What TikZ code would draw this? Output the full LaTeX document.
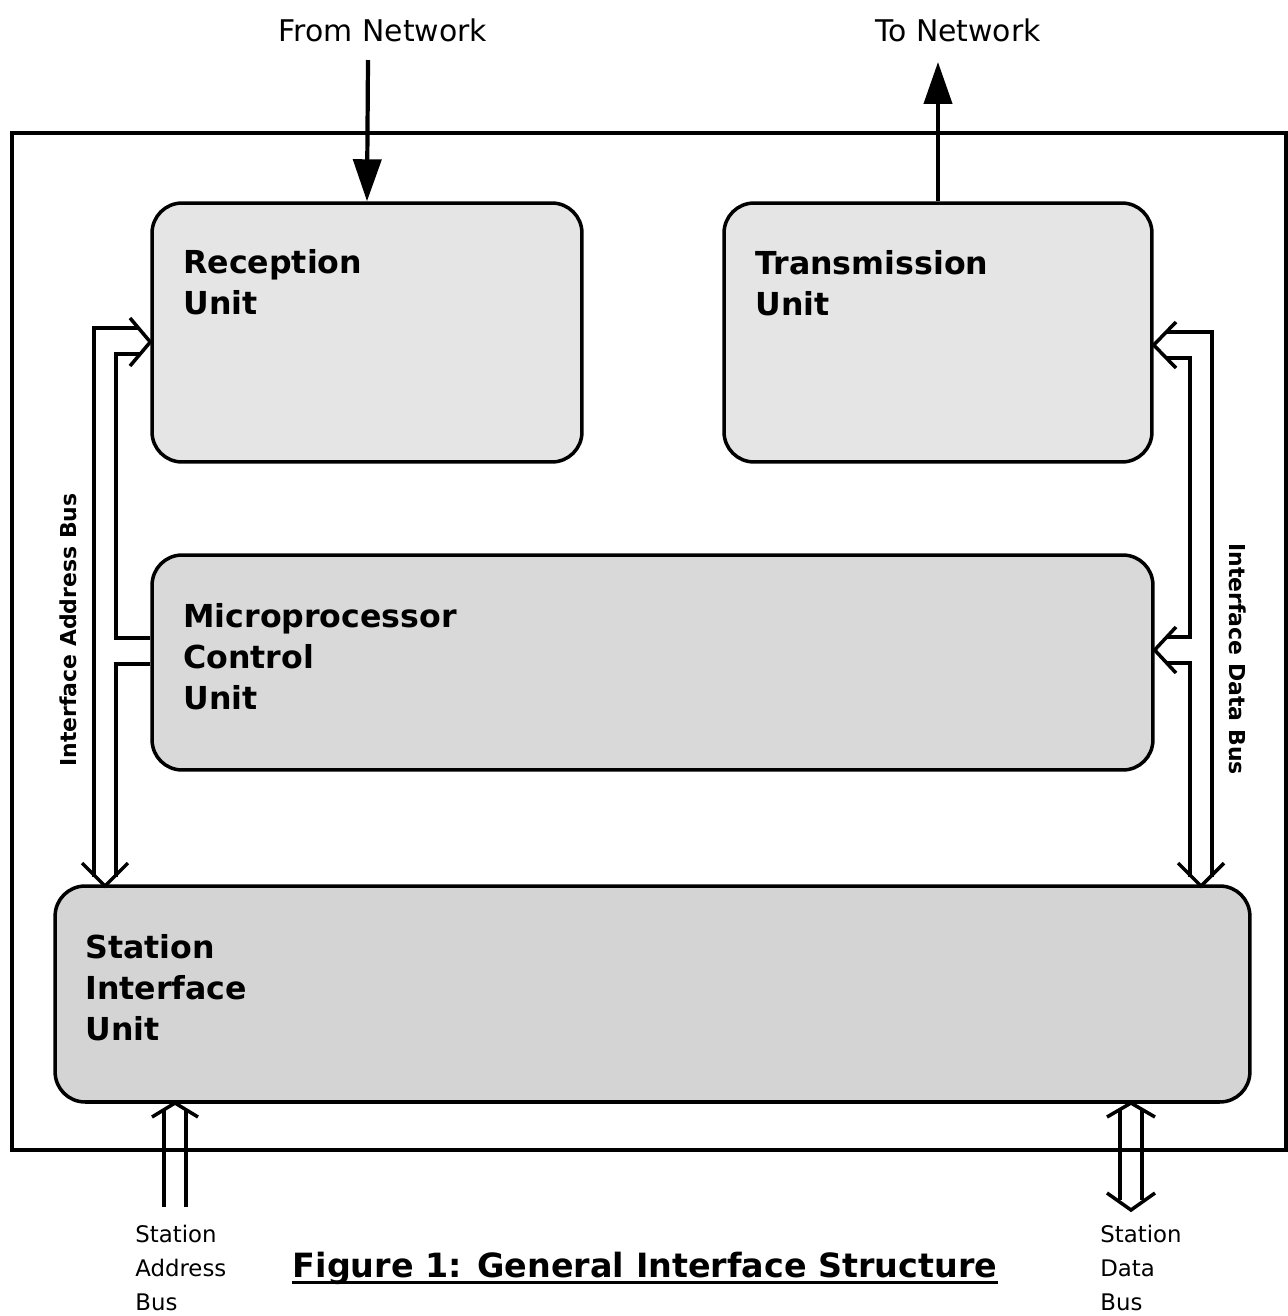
\documentclass[tikz,border=0pt]{standalone}
\usepackage{fontspec}
\setmainfont{DejaVu Sans}
\usetikzlibrary{arrows.meta}

\begin{document}
\begin{tikzpicture}[x=0.02cm, y=-0.02cm,
unit/.style = {draw, line width=2pt, rounded corners=0.6cm, fill=#1, inner sep=0pt},
lbl/.style = {font=\fontsize{18}{23.5}\selectfont\bfseries, align=left, anchor=north west, inner sep=0pt},
ext/.style = {font=\fontsize{17}{20}\selectfont, inner sep=0pt},
buslbl/.style = {font=\fontsize{13}{19.3}\selectfont, align=left, anchor=north west, inner sep=0pt},
bus/.style = {line width=2pt, line join=miter},
net/.style = {line width=2.4pt, -{Triangle[length=0.84cm, width=0.56cm]}}]
\useasboundingbox (0,0) rectangle (1288,1316);
\draw[line width=1.8pt] (12,133) rectangle (1286,1150);
    % units
    \node[unit=gray!20, minimum width=8.6cm, minimum height=5.18cm] (rx) at (367,332.5) {};
    \node[unit=gray!20, minimum width=8.56cm, minimum height=5.18cm] (tx) at (938,332.5) {};
    \node[unit=gray!30, minimum width=20.02cm, minimum height=4.3cm] (mc) at (652.5,662.5) {};
    \node[unit=gray!34, minimum width=23.9cm, minimum height=4.32cm] (si) at (652.5,994) {};
    \node[lbl] (rxl) at (183,249) {Reception\\Unit};
    \node[lbl] (txl) at (755,250) {Transmission\\Unit};
    \node[lbl] (mcl) at (183,603) {Microprocessor\\Control\\Unit};
    \node[lbl] (sil) at (85,934) {Station\\Interface\\Unit};
    % network
    \node[ext] (fromnet) at (383,30) {From Network};
    \node[ext] (tonet) at (958,30) {To Network};
    \coordinate (fn) at (368,60);
    \coordinate (tn) at (938,62);
    \draw[net] (fn) -- (rx.north);
    \draw[net] (tx.north) -- (tn);
    % interface address bus
    \draw[bus] (139,328) -- (94,328) -- (94,877);
    \draw[bus] (141,354) -- (116,354) -- (116,638) -- (mc.west |- 0,638);
    \draw[bus] (mc.west |- 0,664) -- (116,664) -- (116,877);
    \draw[bus] (130,318) -- (rx.west |- 0,342) -- (130,366);
    \draw[bus] (82,863) -- (105,886) -- (128,863);
    \node[font=\fontsize{12.5}{14}\selectfont\bfseries, rotate=90] (iab) at (68,630) {Interface Address Bus};
    % interface data bus
    \draw[bus] (1166,332) -- (1212,332) -- (1212,877);
    \draw[bus] (1166,358) -- (1190,358) -- (1190,637) -- (1166,637);
    \draw[bus] (1166,663) -- (1190,663) -- (1190,877);
    \draw[bus] (1176,322) -- (tx.east |- 0,345) -- (1176,368);
    \draw[bus] (1176,627) -- (mc.east |- 0,650) -- (1176,673);
    \draw[bus] (1178,863) -- (1201,886) -- (1224,863);
    \node[font=\fontsize{12.5}{14}\selectfont\bfseries, rotate=-90] (idb) at (1238,659) {Interface Data Bus};
    % station buses
    \draw[bus] (164,1207) -- (164,1110);
    \draw[bus] (186,1207) -- (186,1110);
    \draw[bus] (152,1117) -- (175,1103) -- (198,1117);
    \draw[bus] (1120,1110) -- (1120,1200);
    \draw[bus] (1142,1110) -- (1142,1200);
    \draw[bus] (1107,1117) -- (1131,1103) -- (1155,1117);
    \draw[bus] (1107,1193) -- (1131,1210) -- (1155,1193);
    \node[buslbl] (sab) at (135,1225) {Station\\Address\\Bus};
    \node[buslbl] (sdb) at (1100,1225) {Station\\Data\\Bus};
    % caption
    \node[font=\fontsize{19}{22}\selectfont\bfseries, inner sep=0pt] (cap) at (645,1268) {Figure 1: General Interface Structure};
    \draw[line width=1.5pt] ([yshift=-3pt]cap.base west) -- ([yshift=-3pt]cap.base east);
\end{tikzpicture}
\end{document}
